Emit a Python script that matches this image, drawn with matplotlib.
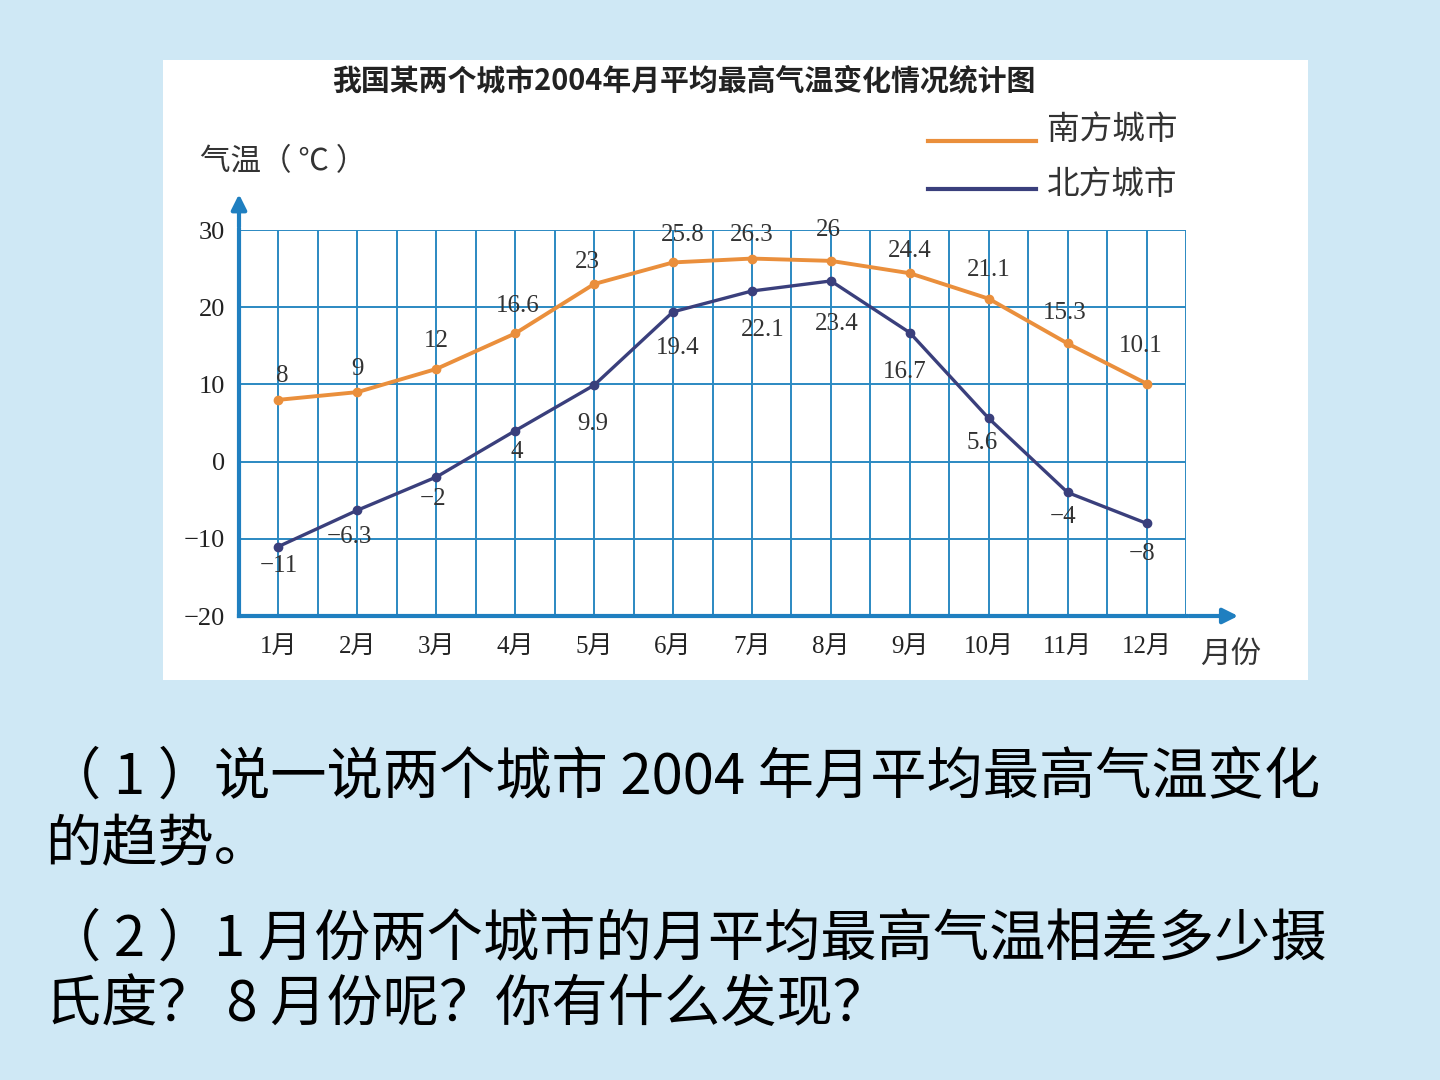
import matplotlib
matplotlib.use("Agg")
import matplotlib.pyplot as plt
from matplotlib.lines import Line2D
from matplotlib.patches import Rectangle
import numpy as np

# ---- data ----
months = [1, 2, 3, 4, 5, 6, 7, 8, 9, 10, 11, 12]
month_labels = ["1月", "2月", "3月", "4月", "5月", "6月", "7月", "8月", "9月", "10月", "11月", "12月"]
south = [8, 9, 12, 16.6, 23, 25.8, 26.3, 26, 24.4, 21.1, 15.3, 10.1]
north = [-11, -6.3, -2, 4, 9.9, 19.4, 22.1, 23.4, 16.7, 5.6, -4, -8]
y_ticks = [-20, -10, 0, 10, 20, 30]
south_name = "南方城市"
north_name = "北方城市"
title = "我国某两个城市2004年月平均最高气温变化情况统计图"
ylabel = "气温（ ℃ ）"
xlabel = "月份"
question_lines = [
    "（ 1 ）说一说两个城市 2004 年月平均最高气温变化",
    "的趋势。",
    "（ 2 ）1 月份两个城市的月平均最高气温相差多少摄",
    "氏度？ 8 月份呢？你有什么发现？",
]

# label offsets (points) for value annotations
south_off = [(3, 17), (0, 17), (0, 20), (2, 20), (-5, 16), (7, 20), (0, 17), (-2, 22), (0, 16), (0, 21), (-2, 22), (-4, 27)]
north_off = [(0, -14), (-6, -19), (-2, -16), (1, -15), (-1, -28), (3, -26), (8, -28), (4, -31), (-4, -28), (-5, -18), (-3, -18), (-3, -22)]

W, H = 1440, 1080
fig = plt.figure(figsize=(14.4, 10.8), dpi=100)
fig.patch.set_facecolor("#cfe8f5")

def fx(px):
    return px / W

def fy(py):
    return 1 - py / H

# white panel
fig.add_artist(Rectangle((fx(163), fy(680)), fx(1308) - fx(163), fy(60) - fy(680),
                         transform=fig.transFigure, facecolor="white", edgecolor="none", zorder=0))

ax = fig.add_axes([fx(239), fy(616), fx(1186) - fx(239), fy(230) - fy(616)])
ax.set_facecolor("white")
ax.set_xlim(0.5, 12.5)
ax.set_ylim(-20, 30)

grid_c = "#2b89c2"
for xv in np.arange(0.5, 12.51, 0.5):
    ax.axvline(xv, color=grid_c, lw=1.4, zorder=1)
for yv in y_ticks:
    ax.axhline(yv, color=grid_c, lw=1.4, zorder=1)

for s in ["top", "right"]:
    ax.spines[s].set_visible(False)
for s in ["left", "bottom"]:
    ax.spines[s].set_color("#1f7fc0")
    ax.spines[s].set_linewidth(3)
    ax.spines[s].set_zorder(2)

serif = ["Liberation Serif", "Noto Sans CJK SC"]
ax.set_yticks(y_ticks)
ax.set_yticklabels([str(v).replace("-", "−") for v in y_ticks], family=serif, fontsize=19, color="#222222")
ax.set_xticks(months)
ax.set_xticklabels(month_labels, family=serif, fontsize=18, color="#222222")
ax.tick_params(length=0, pad=10)
ax.tick_params(axis="x", pad=14)

orange = "#ea8f3c"
navy = "#3a3f7c"
ax.plot(months, south, color=orange, lw=2.8, marker="o", ms=6, zorder=4)
ax.plot(months, north, color=navy, lw=2.4, marker="o", ms=6, zorder=4)

def fmt(v):
    s = ("%g" % v).replace("-", "−")
    return s

for m, v, off in zip(months, south, south_off):
    ax.annotate(fmt(v), (m, v), xytext=off, textcoords="offset points", ha="center", va="center",
                family=serif, fontsize=18, color="#333333", zorder=5)
for m, v, off in zip(months, north, north_off):
    ax.annotate(fmt(v), (m, v), xytext=off, textcoords="offset points", ha="center", va="center",
                family=serif, fontsize=18, color="#333333", zorder=5)

# axis arrows
ax.annotate("", xy=(0, 1.10), xytext=(0, 1.0), xycoords="axes fraction",
            arrowprops=dict(arrowstyle="-|>,head_length=0.9,head_width=0.45", color="#1f7fc0", lw=3),
            annotation_clip=False)
ax.annotate("", xy=(1.058, 0), xytext=(1.0, 0), xycoords="axes fraction",
            arrowprops=dict(arrowstyle="-|>,head_length=0.9,head_width=0.45", color="#1f7fc0", lw=3),
            annotation_clip=False)

cjk = ["Noto Sans CJK SC", "DejaVu Sans"]
fig.text(fx(684), fy(80), title, family=cjk, fontsize=20.8, fontweight="bold", ha="center", va="center", color="#222222")
fig.text(fx(200), fy(162), ylabel, family=cjk, fontsize=22, ha="left", va="center", color="#333333")
fig.text(fx(1200), fy(655), xlabel, family=cjk, fontsize=22, ha="left", va="center", color="#333333")

# legend
fig.add_artist(Line2D([fx(928), fx(1036)], [fy(141), fy(141)], transform=fig.transFigure, color=orange, lw=3))
fig.add_artist(Line2D([fx(928), fx(1036)], [fy(189), fy(189)], transform=fig.transFigure, color=navy, lw=3))
fig.text(fx(1047), fy(130), south_name, family=cjk, fontsize=23.5, ha="left", va="center", color="#333333")
fig.text(fx(1047), fy(185), north_name, family=cjk, fontsize=23.5, ha="left", va="center", color="#333333")

# question text
qfam = ["Noto Sans CJK SC", "DejaVu Sans"]
for txt, ypx in zip(question_lines, [778, 845, 940, 1005]):
    fig.text(fx(45), fy(ypx), txt, family=qfam, fontsize=40.5, ha="left", va="center", color="black")

fig.savefig("out.png", dpi=100, facecolor=fig.get_facecolor())
